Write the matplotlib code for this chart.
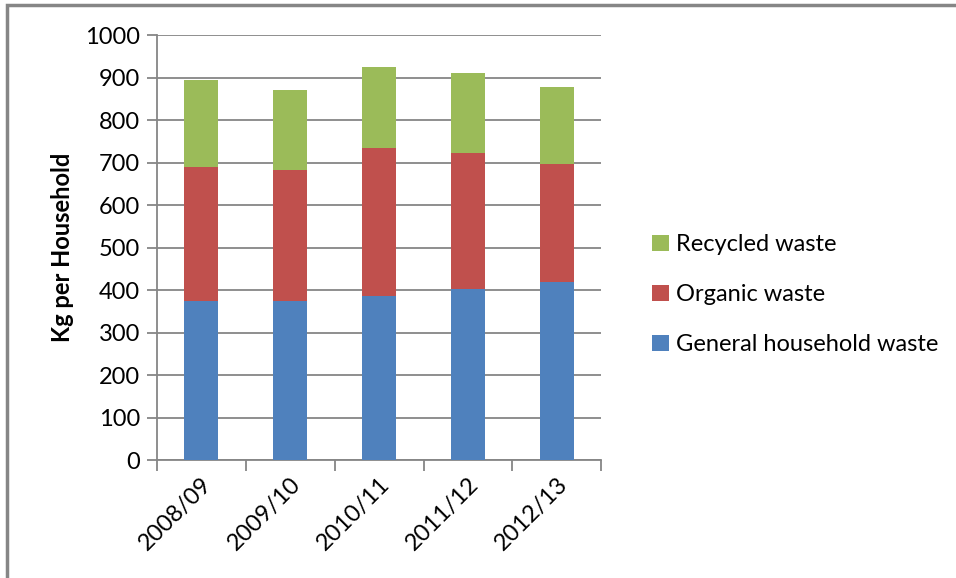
import numpy as np
import matplotlib.pyplot as plt
from matplotlib.patches import Rectangle

years = ['2008/09', '2009/10', '2010/11', '2011/12', '2012/13']
general = [375, 375, 387, 403, 420]
organic = [316, 309, 347, 319, 276]
recycled = [204, 187, 191, 189, 182]

plt.rcParams['font.family'] = ['Lato', 'DejaVu Sans']

fig = plt.figure(figsize=(9.56, 5.78), dpi=100)
ax = fig.add_axes([0.164, 0.204, 0.465, 0.735])

x = np.arange(len(years))
w = 0.38
b1 = ax.bar(x, general, w, color='#4f81bd', label='General household waste', zorder=3)
b2 = ax.bar(x, organic, w, bottom=general, color='#c0504d', label='Organic waste', zorder=3)
bottom2 = np.array(general) + np.array(organic)
b3 = ax.bar(x, recycled, w, bottom=bottom2, color='#9bbb59', label='Recycled waste', zorder=3)

ax.set_xlim(-0.5, len(years) - 0.5)
ax.set_ylim(0, 1000)
ax.set_yticks(range(0, 1001, 100))
ax.yaxis.grid(True, color='#868686', linewidth=1.3, zorder=0)

# category ticks sit between the bars
ax.set_xticks(x)
ax.set_xticklabels(years, rotation=45, ha='right', rotation_mode='anchor', fontsize=17)
ax.tick_params(axis='x', length=0, pad=10)
ax.set_xticks(np.arange(-0.5, len(years)), minor=True)
ax.tick_params(axis='x', which='minor', length=8, color='#868686', width=1.3)
ax.tick_params(axis='y', length=7, color='#868686', width=1.3, labelsize=17, pad=5)

for s in ['top', 'right']:
    ax.spines[s].set_visible(False)
for s in ['left', 'bottom']:
    ax.spines[s].set_color('#868686')
    ax.spines[s].set_linewidth(1.3)

ax.set_ylabel('Kg per Household', fontsize=17, fontweight='bold', labelpad=8)

leg = fig.legend(handles=[b3, b2, b1], loc='center left', bbox_to_anchor=(0.66, 0.49),
                 frameon=False, fontsize=17, handlelength=0.7, handleheight=0.7,
                 handletextpad=0.3, labelspacing=1.22)

# outer chart border (only top and left edges are visible)
fig.patches.append(Rectangle((7 / 956, -0.1), 1.2, 1 - 5 / 578 + 0.1,
                             transform=fig.transFigure, fill=False,
                             edgecolor='#868686', linewidth=2.5))

fig.savefig('out.png', dpi=100)
